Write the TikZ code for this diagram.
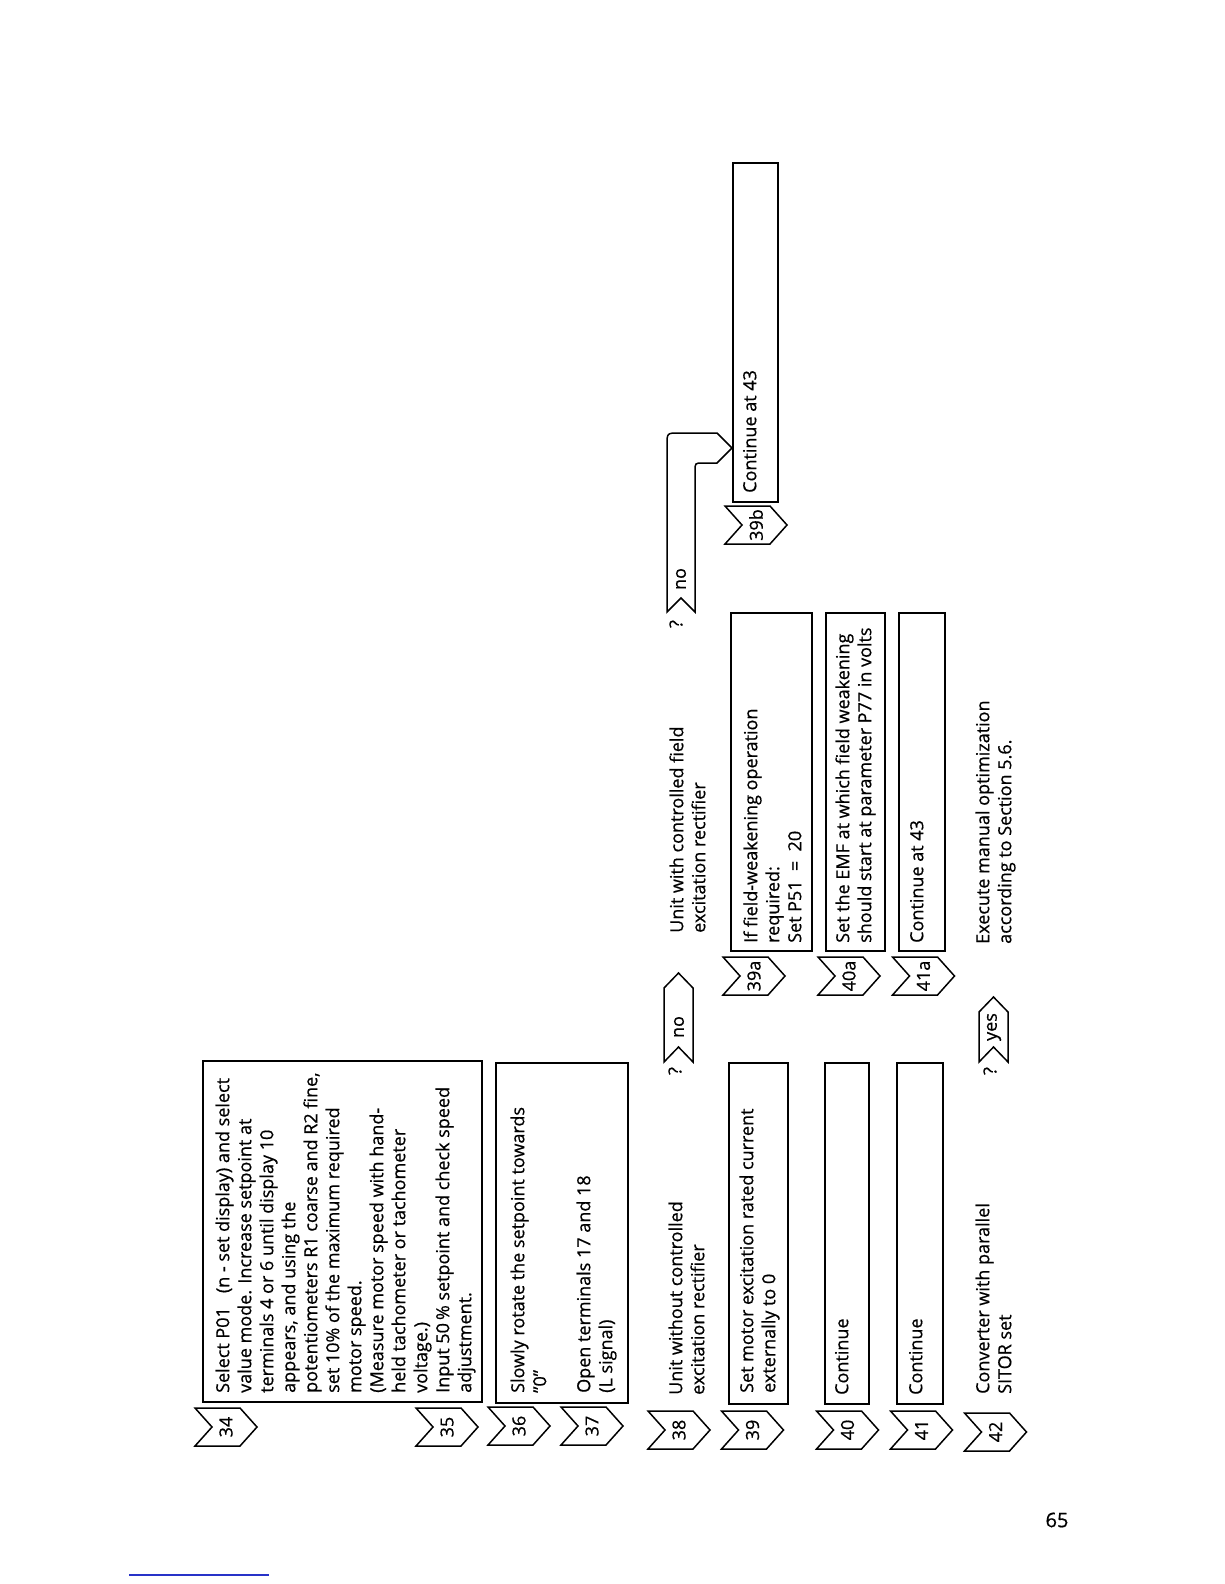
\documentclass[tikz,border=0pt]{standalone}
\usepackage{fontspec}
\setmainfont{Open Sans}[FakeBold=0.6]
\newcommand\mychev[4]{%
  \begin{scope}[shift={(#2,#3)}]
    \draw[outl] (-31,-19) -- (14,-19) -- (31,0) -- (14,19) -- (-31,19) -- (-14,0) -- cycle;
  \end{scope}
  \node[chevlbl] (#1) at (#2,#3) {#4};}
\begin{document}
\begin{tikzpicture}[x=1pt,y=-1pt,
  box/.style={draw, line width=1.5pt, inner sep=0pt},
  txt/.style={rotate=90, anchor=north west, inner sep=0pt, align=left, font=\fontsize{18}{22}\selectfont},
  chevlbl/.style={rotate=90, inner sep=0pt, font=\fontsize{18}{20}\selectfont},
  small/.style={rotate=90, inner sep=0pt, font=\fontsize{18}{20}\selectfont},
  outl/.style={line width=1.5pt, line join=miter},
]
\useasboundingbox (0,0) rectangle (1224,1584);
\fill[white] (0,0) rectangle (1224,1584);

% boxes
\node[box, minimum width=279pt, minimum height=341pt] (b34) at (342.5,1231.5) {};
\node[box, minimum width=132pt, minimum height=340pt] (b36) at (562,1233) {};
\node[box, minimum width=59pt, minimum height=341pt] (b39) at (758.5,1233.5) {};
\node[box, minimum width=44pt, minimum height=341pt] (b40) at (847,1233.5) {};
\node[box, minimum width=46pt, minimum height=341pt] (b41) at (920,1233.5) {};
\node[box, minimum width=81pt, minimum height=338pt] (b39a) at (771.5,782) {};
\node[box, minimum width=59pt, minimum height=338pt] (b40a) at (855.5,782) {};
\node[box, minimum width=46pt, minimum height=338pt] (b41a) at (922,782) {};
\node[box, minimum width=45pt, minimum height=339pt] (b39b) at (755.5,332.5) {};

% texts
\node[txt] (t34) at (213.6,1393) {\strut Select P01\ \ \ (n - set display) and select\\
value mode. Increase setpoint at\\
terminals 4 or 6 until display 10\\
appears, and using the\\
potentiometers R1 coarse and R2 fine,\\
set 10\% of the maximum required\\
motor speed.\\
(Measure motor speed with hand-\\
held tachometer or tachometer\\
voltage.)};
\node[txt] (t35) at (433.6,1393) {\strut Input 50\,\% setpoint and check speed\\adjustment.};
\node[txt] (t36) at (508.6,1393) {\strut Slowly rotate the setpoint towards\\"0"};
\node[txt] (t37) at (574.6,1393) {\strut Open terminals 17 and 18\\(L signal)};
\node[txt] (t38) at (666.6,1395) {\strut Unit without controlled\\excitation rectifier};
\node[txt] (t38b) at (667.6,933) {\strut Unit with controlled field\\excitation rectifier};
\node[txt] (t39) at (737.6,1393) {\strut Set motor excitation rated current\\externally to 0};
\node[txt] (t39a) at (741.6,943) {\strut If field-weakening operation\\required:\\Set P51\ \ =\ \ 20};
\node[txt] (t39b) at (740.6,493) {\strut Continue at 43};
\node[txt] (t40) at (832.6,1395) {\strut Continue};
\node[txt] (t40a) at (833.6,943) {\strut Set the EMF at which field weakening\\should start at parameter P77 in volts};
\node[txt] (t41) at (906.6,1395) {\strut Continue};
\node[txt] (t41a) at (907.6,943) {\strut Continue at 43};
\node[txt] (t42) at (973.6,1394) {\strut Converter with parallel\\SITOR set};
\node[txt] (t42b) at (973.6,944) {\strut Execute manual optimization\\according to Section 5.6.};

% chevrons
\mychev{c34}{226}{1427}{34}
\mychev{c35}{447}{1427}{35}
\mychev{c36}{519}{1426}{36}
\mychev{c37}{592}{1426}{37}
\mychev{c38}{679}{1430}{38}
\mychev{c39}{752.5}{1430}{39}
\mychev{c40}{847.5}{1430}{40}
\mychev{c41}{921.5}{1430}{41}
\mychev{c42}{995.5}{1432}{42}
\mychev{c39a}{754}{976}{39a}
\mychev{c40a}{849}{976}{40a}
\mychev{c41a}{923.5}{976}{41a}
\mychev{c39b}{756}{525}{39b}

% decision: no (38)
\draw[outl] (664,1062) -- (664,988) -- (678.5,973) -- (693,988) -- (693,1062) -- (678.5,1047) -- cycle;
\node[small] (no1) at (679,1027) {no};
\node[small] (q1) at (675,1071) {?};

% decision: no (bent to 39b)
\coordinate (tip) at (732,448);
\draw[outl] (667,612) -- (667,445) .. controls (667,433) .. (679,433) -- (717,433) -- (tip) -- (717,463) -- (703,463) .. controls (695,463) .. (695,471) -- (695,612) -- (681,598) -- cycle;
\node[small] (no2) at (681,579) {no};
\node[small] (q2) at (676,624) {?};

% decision: yes (42)
\draw[outl] (979,1062) -- (979,1012) -- (993.5,997) -- (1008,1012) -- (1008,1062) -- (993.5,1047) -- cycle;
\node[small] (yes1) at (994,1027) {yes};
\node[small] (q3) at (990,1071) {?};

% page number and rule
\node[font=\fontsize{20}{22}\selectfont, inner sep=0pt] (pg) at (1057,1520) {65};
\coordinate (bl1) at (129,1575);
\coordinate (bl2) at (269,1575);
\draw[color={rgb,255:red,40;green,50;blue,200}, line width=1.2pt] (bl1) -- (bl2);
\end{tikzpicture}
\end{document}
